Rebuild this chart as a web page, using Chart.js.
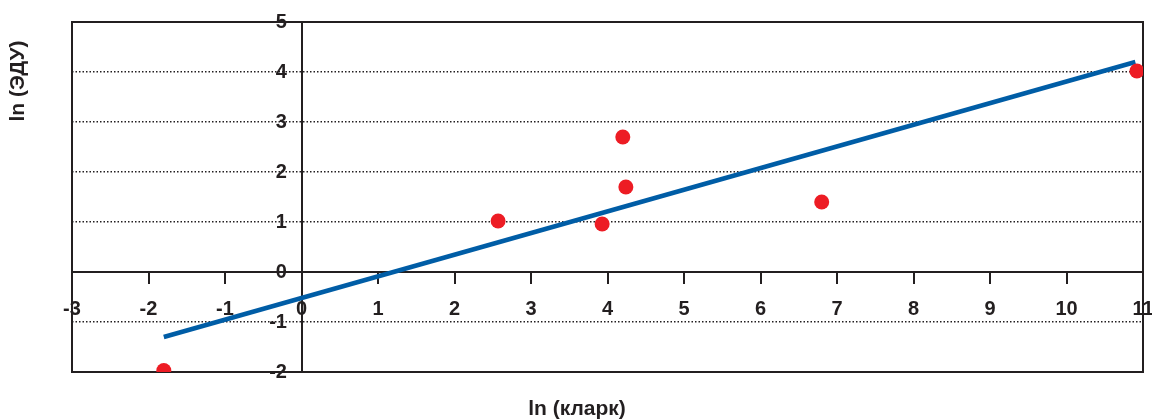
<!DOCTYPE html>
<html><head><meta charset="utf-8">
<script src="https://cdn.jsdelivr.net/npm/chart.js@4.4.0/dist/chart.umd.min.js"></script>
<style>html,body{margin:0;padding:0;background:#fff}#wrap{width:1152px;height:420px}</style>
</head><body><div id="wrap"><canvas id="c" width="1152" height="420"></canvas></div>
<script>
const pointsX = [-1.8, 2.57, 3.93, 4.2, 4.24, 6.8, 10.92];
const pointsY = [-1.97, 1.02, 0.96, 2.7, 1.7, 1.4, 4.02];
const trendX = [-1.8, 10.9];
const trendY = [-1.3, 4.2];
const xTicks = [-3, -2, -1, 0, 1, 2, 3, 4, 5, 6, 7, 8, 9, 10, 11];
const yTicks = [-2, -1, 0, 1, 2, 3, 4, 5];
const xTitle = 'ln (кларк)';
const yTitle = 'ln (ЭДУ)';

const INK = '#231f20';
const FONT = 'Liberation Sans, Arial, sans-serif';
const CLEAR = 'rgba(0,0,0,0)';

const noPad = s => { s.paddingLeft = 0; s.paddingRight = 0; s.paddingTop = 0; s.paddingBottom = 0; };

const frame = {
  id: 'frame',
  beforeDatasetsDraw(chart) {
    const a = chart.chartArea, ctx = chart.ctx;
    ctx.save();
    ctx.strokeStyle = INK; ctx.lineWidth = 2;
    ctx.strokeRect(a.left, a.top, a.right - a.left, a.bottom - a.top);
    ctx.restore();
  },
  afterDraw(chart) {
    const ctx = chart.ctx;
    ctx.save();
    ctx.fillStyle = INK;
    ctx.font = 'bold 21px ' + FONT;
    ctx.textAlign = 'center'; ctx.textBaseline = 'middle';
    ctx.fillText(xTitle, 577, 409);
    ctx.translate(18, 81); ctx.rotate(-Math.PI / 2);
    ctx.fillText(yTitle, 0, 0);
    ctx.restore();
  }
};

new Chart(document.getElementById('c'), {
  type: 'scatter',
  data: {
    datasets: [
      {
        label: 'trend',
        data: trendX.map((x, i) => ({x, y: trendY[i]})),
        showLine: true, borderColor: '#005da6', borderWidth: 4.5,
        pointRadius: 0, order: 2
      },
      {
        label: 'points',
        data: pointsX.map((x, i) => ({x, y: pointsY[i]})),
        backgroundColor: '#ed1c24', borderColor: '#ed1c24',
        pointRadius: 7.5, borderWidth: 0, order: 1
      }
    ]
  },
  options: {
    responsive: false, animation: false, devicePixelRatio: 1,
    layout: {autoPadding: false, padding: {left: 72, right: 9, top: 22, bottom: 48}},
    plugins: {legend: {display: false}, tooltip: {enabled: false}},
    scales: {
      x: {
        type: 'linear', min: -3, max: 11, position: {y: 0},
        afterBuildTicks: s => { s.ticks = xTicks.map(v => ({value: v})); },
        afterFit: noPad,
        grid: {drawOnChartArea: true, drawTicks: true, tickLength: 11, tickColor: INK, tickWidth: 2,
          color: c => (c.tick && c.tick.value === 0 ? INK : CLEAR), lineWidth: 2},
        border: {display: true, color: INK, width: 2},
        ticks: {color: INK, font: {family: FONT, size: 20, weight: 'bold'}, padding: 14, maxRotation: 0, autoSkip: false}
      },
      y: {
        type: 'linear', min: -2, max: 5, position: {x: -0.19},
        afterBuildTicks: s => { s.ticks = yTicks.map(v => ({value: v})); },
        afterFit: s => { noPad(s); s.width = 0; },
        grid: {drawTicks: false, lineWidth: 1.5,
          color: c => ([-2, 0, 5].includes(c.tick && c.tick.value) ? CLEAR : INK)},
        border: {display: false, color: INK, width: 2, dash: [1.5, 2]},
        ticks: {color: INK, font: {family: FONT, size: 20, weight: 'bold'}, padding: 0, autoSkip: false}
      }
    }
  },
  plugins: [frame]
});
</script></body></html>
